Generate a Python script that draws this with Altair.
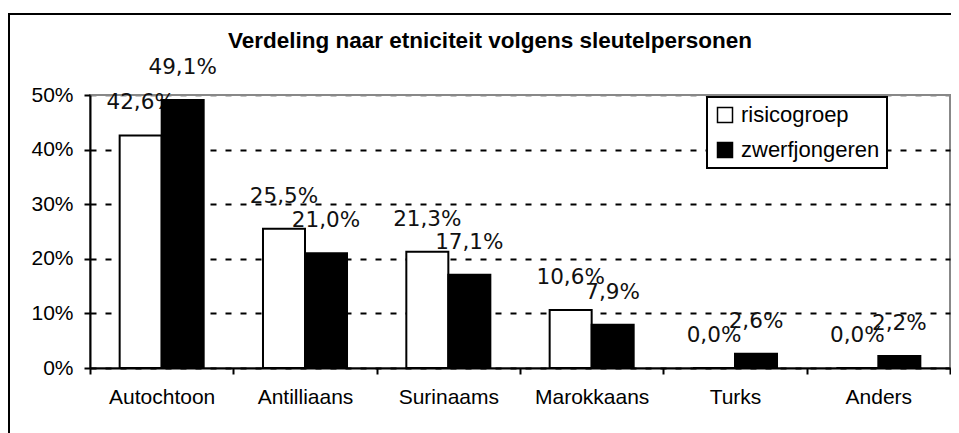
import altair as alt
import pandas as pd

categories = ["Autochtoon", "Antilliaans", "Surinaams", "Marokkaans", "Turks", "Anders"]
groups = ["risicogroep", "zwerfjongeren"]
risicogroep = [42.6, 25.5, 21.3, 10.6, 0.0, 0.0]
zwerfjongeren = [49.1, 21.0, 17.1, 7.9, 2.6, 2.2]
y_ticks = [0, 10, 20, 30, 40, 50]
title_text = "Verdeling naar etniciteit volgens sleutelpersonen"

rows = []
for i, c in enumerate(categories):
    rows.append({"category": c, "group": groups[0], "value": risicogroep[i]})
    rows.append({"category": c, "group": groups[1], "value": zwerfjongeren[i]})
df = pd.DataFrame(rows)

AX_FONT = "Liberation Sans"
LBL_FONT = "DejaVu Sans"

x_enc = alt.X(
    "category:N",
    sort=categories,
    title=None,
    scale=alt.Scale(paddingInner=0, paddingOuter=0),
    axis=alt.Axis(
        tickBand="extent",
        labelAngle=0,
        labelFont=AX_FONT,
        labelFontSize=21,
        labelColor="black",
        labelPadding=12,
        domainColor="black",
        domainWidth=2,
        tickColor="black",
        tickWidth=2,
        tickSize=6,
        grid=False,
    ),
)
xo_enc = alt.XOffset(
    "group:N",
    sort=groups,
    scale=alt.Scale(paddingInner=0, paddingOuter=0.706),
)
y_enc = alt.Y(
    "value:Q",
    title=None,
    scale=alt.Scale(domain=[0, 50], nice=False),
    axis=alt.Axis(
        values=y_ticks,
        labelExpr="datum.value + '%'",
        labelFont=AX_FONT,
        labelFontSize=21,
        labelColor="black",
        labelPadding=11,
        domainColor="black",
        domainWidth=2,
        tickColor="black",
        tickWidth=2,
        tickSize=6,
        grid=True,
        gridColor={"condition": {"test": "datum.value === 50", "value": "#888888"}, "value": "black"},
        gridWidth=2,
        gridDash=[6, 9],
    ),
)

base = alt.Chart(df)

labels = base.transform_calculate(
    lab="replace(format(datum.value, '.1f'), '.', ',') + '%'"
).mark_text(
    font=LBL_FONT, fontSize=21.5, color="#111111", baseline="middle", dy=-32
).encode(x=x_enc, xOffset=xo_enc, y=y_enc, text="lab:N")

bars = base.mark_bar(stroke="black", strokeWidth=2).encode(
    x=x_enc,
    xOffset=xo_enc,
    y=y_enc,
    color=alt.Color(
        "group:N",
        sort=groups,
        scale=alt.Scale(domain=groups, range=["white", "black"]),
        legend=alt.Legend(
            title=None,
            orient="none",
            legendX=617,
            legendY=2,
            symbolType="square",
            symbolSize=225,
            symbolStrokeColor="black",
            symbolStrokeWidth=1.5,
            labelFont=AX_FONT,
            labelFontSize=22,
            labelColor="black",
            labelOffset=5,
            rowPadding=13,
            padding=7,
            strokeColor="black",
            fillColor="white",
        ),
    ),
)

chart = (
    alt.layer(labels, bars)
    .properties(
        width=860,
        height=273,
        autosize=alt.AutoSizeParams(type="none"),
        padding={"left": 80, "top": 80, "right": 15, "bottom": 70},
        title=alt.TitleParams(
            title_text,
            font=AX_FONT,
            fontSize=22.5,
            fontWeight="bold",
            color="black",
            anchor="middle",
            dx=-30,
        ),
    )
    .configure_view(stroke="#888888", strokeWidth=2)
    .configure_legend(strokeWidth=2)
)

chart.save("out.html", embed_options={"renderer": "svg", "actions": False})

with open("out.html", "r", encoding="utf-8") as f:
    html = f.read()
css = (
    "<style>html,body{overflow:hidden;}"
    "#vis.vega-embed, .vega-embed{width:auto !important;display:inline-block !important;"
    "border:2px solid black !important;margin-top:5px !important;padding:0 !important;}</style>"
)
html = html.replace("</head>", css + "</head>", 1)
with open("out.html", "w", encoding="utf-8") as f:
    f.write(html)
